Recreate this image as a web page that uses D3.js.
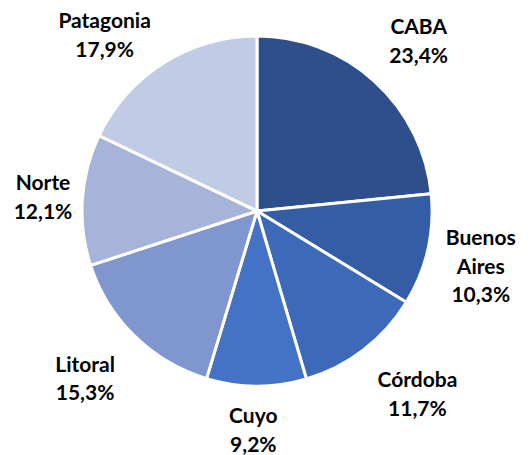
<!DOCTYPE html>
<html>
<head>
<meta charset="utf-8">
<script src="https://cdn.jsdelivr.net/npm/d3@7"></script>
<style>
  html, body { margin: 0; padding: 0; background: #ffffff; }
  svg { display: block; }
  text { font-family: Lato, "Open Sans", sans-serif; font-weight: bold; fill: #000; }
</style>
</head>
<body>
<svg id="chart" width="531" height="455"></svg>
<script>
const categories = ["CABA", "Buenos Aires", "Córdoba", "Cuyo", "Litoral", "Norte", "Patagonia"];
const values = [23.4, 10.3, 11.7, 9.2, 15.3, 12.1, 17.9];
const labelLines = [["CABA"], ["Buenos", "Aires"], ["Córdoba"], ["Cuyo"], ["Litoral"], ["Norte"], ["Patagonia"]];
const colors = ["#2F4F8C", "#355DA6", "#3C69B8", "#4472C4", "#7F96CF", "#A6B4DA", "#C2CBE5"];

const W = 531, H = 455;
const cx = 257, cy = 211, R = 175;
const labelR = R * 1.3;
const lineH = 28.5;
const nudge = {
  "CABA": [9, -1], "Buenos Aires": [2, 5], "Córdoba": [22, 3], "Cuyo": [-3, -8],
  "Litoral": [-13, 5], "Norte": [13, 1], "Patagonia": [-31, 17]
};

const fmt = v => d3.format(".1f")(v).replace(".", ",") + "%";

const data = categories.map((c, i) => ({ cat: c, value: values[i], lines: labelLines[i], color: colors[i] }));

const svg = d3.select("#chart");
const g = svg.append("g").attr("transform", `translate(${cx},${cy})`);

const pie = d3.pie().sort(null).value(d => d.value);
const arc = d3.arc().innerRadius(0).outerRadius(R);
const labelArc = d3.arc().innerRadius(labelR).outerRadius(labelR);
const arcs = pie(data);

g.selectAll("path.slice").data(arcs).join("path")
  .attr("class", "slice")
  .attr("d", arc)
  .attr("fill", d => d.data.color)
  .attr("stroke", "#ffffff")
  .attr("stroke-width", 3)
  .attr("stroke-linejoin", "round");

const labels = g.selectAll("text.lbl").data(arcs).join("text")
  .attr("class", "lbl")
  .attr("text-anchor", "middle")
  .style("font-size", "21px");

labels.each(function(d) {
  const [x0, y0] = labelArc.centroid(d);
  const n = nudge[d.data.cat] || [0, 0];
  const x = x0 + n[0], y = y0 + n[1];
  const lines = d.data.lines.concat([fmt(d.data.value)]);
  const first = y + 7 - (lines.length - 1) * lineH / 2;
  const t = d3.select(this);
  lines.forEach((ln, i) => {
    t.append("tspan").attr("x", x).attr("y", first + i * lineH).text(ln);
  });
});
</script>
</body>
</html>
